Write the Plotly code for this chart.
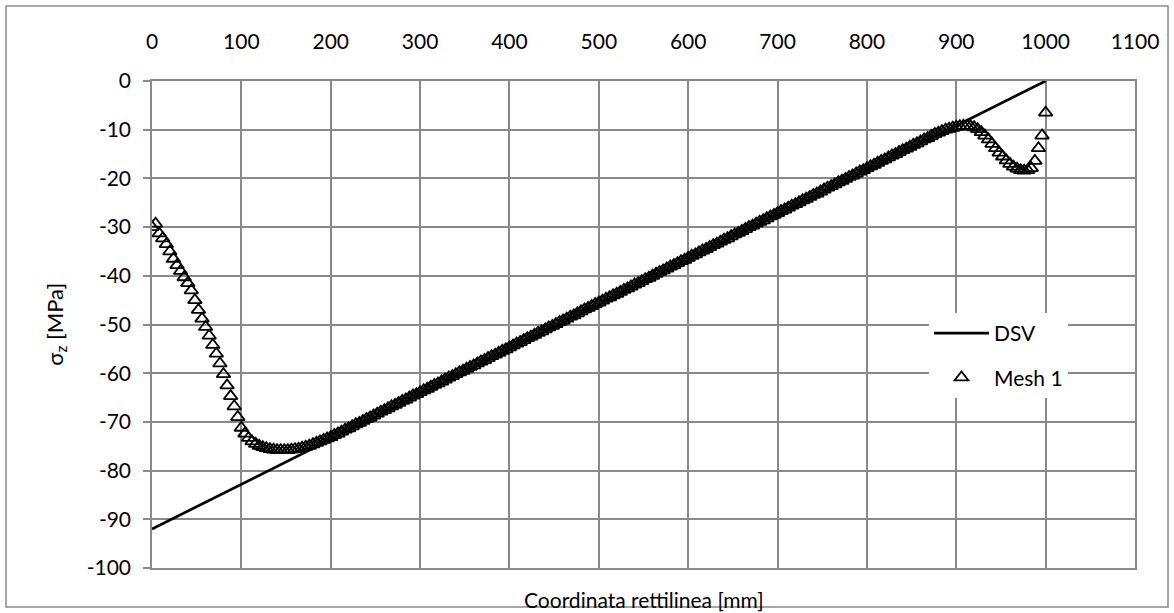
import plotly.graph_objects as go

# ---- data ----
dsv_x = [0, 1000]
dsv_y = [-92.0, 0.0]

mesh_x = [
    0, 4, 8, 12, 16, 20, 24, 28, 32, 36, 40, 44, 48, 52, 56, 60, 64, 68, 72, 76,
    80, 84, 88, 92, 96, 100, 104, 108, 112, 116, 120, 124, 128, 132, 136, 140, 144, 148, 152, 156,
    160, 164, 168, 172, 176, 180, 184, 188, 192, 196, 200, 204, 208, 212, 216, 220, 224, 228, 232, 236,
    240, 244, 248, 252, 256, 260, 264, 268, 272, 276, 280, 284, 288, 292, 296, 300, 304, 308, 312, 316,
    320, 324, 328, 332, 336, 340, 344, 348, 352, 356, 360, 364, 368, 372, 376, 380, 384, 388, 392, 396,
    400, 404, 408, 412, 416, 420, 424, 428, 432, 436, 440, 444, 448, 452, 456, 460, 464, 468, 472, 476,
    480, 484, 488, 492, 496, 500, 504, 508, 512, 516, 520, 524, 528, 532, 536, 540, 544, 548, 552, 556,
    560, 564, 568, 572, 576, 580, 584, 588, 592, 596, 600, 604, 608, 612, 616, 620, 624, 628, 632, 636,
    640, 644, 648, 652, 656, 660, 664, 668, 672, 676, 680, 684, 688, 692, 696, 700, 704, 708, 712, 716,
    720, 724, 728, 732, 736, 740, 744, 748, 752, 756, 760, 764, 768, 772, 776, 780, 784, 788, 792, 796,
    800, 804, 808, 812, 816, 820, 824, 828, 832, 836, 840, 844, 848, 852, 856, 860, 864, 868, 872, 876,
    880, 884, 888, 892, 896, 900, 904, 908, 912, 916, 920, 924, 928, 932, 936, 940, 944, 948, 952, 956,
    960, 964, 968, 972, 976, 980, 984, 988, 992, 996, 1000,
]
mesh_y = [
    -30.0, -29.3, -31.3, -32.3, -33.5, -35.0, -36.5, -37.8, -39.0, -40.3,
    -41.5, -43.0, -45.0, -47.0, -48.8, -50.5, -52.3, -54.2, -56.0, -58.0,
    -60.2, -62.5, -64.7, -66.8, -69.0, -71.2, -72.4, -73.3, -74.0, -74.5,
    -74.9, -75.2, -75.4, -75.6, -75.7, -75.8, -75.8, -75.8, -75.8, -75.7,
    -75.6, -75.5, -75.3, -75.1, -74.9, -74.6, -74.3, -74.0, -73.7, -73.4,
    -73.1, -72.7, -72.4, -72.0, -71.6, -71.3, -70.9, -70.5, -70.2, -69.8,
    -69.4, -69.1, -68.7, -68.3, -67.9, -67.6, -67.2, -66.8, -66.5, -66.1,
    -65.7, -65.4, -65.0, -64.6, -64.3, -63.9, -63.5, -63.2, -62.8, -62.4,
    -62.1, -61.7, -61.3, -60.9, -60.6, -60.2, -59.8, -59.5, -59.1, -58.7,
    -58.4, -58.0, -57.6, -57.3, -56.9, -56.5, -56.2, -55.8, -55.4, -55.1,
    -54.7, -54.3, -53.9, -53.6, -53.2, -52.8, -52.5, -52.1, -51.7, -51.4,
    -51.0, -50.6, -50.3, -49.9, -49.5, -49.2, -48.8, -48.4, -48.1, -47.7,
    -47.3, -46.9, -46.6, -46.2, -45.8, -45.5, -45.1, -44.7, -44.4, -44.0,
    -43.7, -43.3, -42.9, -42.6, -42.2, -41.8, -41.5, -41.1, -40.7, -40.4,
    -40.0, -39.6, -39.2, -38.9, -38.5, -38.1, -37.8, -37.4, -37.0, -36.7,
    -36.3, -35.9, -35.6, -35.2, -34.8, -34.5, -34.1, -33.7, -33.4, -33.0,
    -32.6, -32.3, -31.9, -31.5, -31.2, -30.8, -30.4, -30.0, -29.7, -29.3,
    -28.9, -28.6, -28.2, -27.8, -27.5, -27.1, -26.7, -26.4, -26.0, -25.6,
    -25.3, -24.9, -24.5, -24.2, -23.8, -23.4, -23.1, -22.7, -22.3, -21.9,
    -21.6, -21.2, -20.8, -20.5, -20.1, -19.7, -19.4, -19.0, -18.6, -18.3,
    -17.9, -17.5, -17.2, -16.8, -16.4, -16.1, -15.7, -15.3, -15.0, -14.6,
    -14.2, -13.9, -13.5, -13.1, -12.8, -12.4, -12.0, -11.7, -11.3, -10.9,
    -10.6, -10.3, -10.0, -9.8, -9.6, -9.4, -9.3, -9.2, -9.2, -9.3,
    -9.5, -9.9, -10.5, -11.2, -12.0, -12.9, -13.8, -14.7, -15.5, -16.3,
    -17.0, -17.6, -18.0, -18.3, -18.4, -18.3, -17.9, -16.4, -13.8, -11.2,
    -6.5,
]

x_ticks = [0, 100, 200, 300, 400, 500, 600, 700, 800, 900, 1000, 1100]
y_ticks = [0, -10, -20, -30, -40, -50, -60, -70, -80, -90, -100]

FONT = "Lato"
GRID = "#898989"

fig = go.Figure()
fig.add_trace(go.Scatter(
    x=dsv_x, y=dsv_y, mode="lines", name="DSV",
    line=dict(color="black", width=2.7), legendgroup="a",
))
fig.add_trace(go.Scatter(
    x=mesh_x, y=mesh_y, mode="markers", name="Mesh 1",
    marker=dict(symbol="triangle-up-open", size=12, color="black",
                line=dict(color="black", width=1.8)),
    legendgroup="b",
))

fig.update_layout(
    width=1174, height=613,
    margin=dict(l=152, r=39, t=81, b=45),
    paper_bgcolor="white", plot_bgcolor="white",
    font=dict(family=FONT, size=21, color="black"),
    showlegend=True,
    legend=dict(
        x=0.7904, y=0.5236, xanchor="left", yanchor="top",
        bgcolor="white", borderwidth=0,
        font=dict(family=FONT, size=21, color="black"),
        tracegroupgap=14, traceorder="grouped", itemwidth=55,
    ),
    xaxis=dict(
        side="top", range=[0, 1100], tickvals=x_ticks,
        ticktext=[str(v) for v in x_ticks],
        showgrid=True, gridcolor=GRID, gridwidth=1.5,
        showline=True, linecolor=GRID, linewidth=1.5, mirror=True,
        ticks="", ticklabelstandoff=22, zeroline=False,
    ),
    yaxis=dict(
        range=[-100, 0], tickvals=y_ticks,
        ticktext=[str(v) for v in y_ticks],
        showgrid=True, gridcolor=GRID, gridwidth=1.5,
        showline=True, linecolor=GRID, linewidth=1.5, mirror=True,
        ticks="outside", ticklen=7, tickcolor=GRID, tickwidth=1.5,
        ticklabelstandoff=8, zeroline=False,
    ),
    shapes=[dict(
        type="rect", xref="paper", yref="paper",
        x0=-0.1485, x1=1.0336, y0=-0.080, y1=1.154,
        line=dict(color=GRID, width=1.5), fillcolor="rgba(0,0,0,0)", layer="below",
    )],
    annotations=[
        dict(text="Coordinata rettilinea [mm]", xref="paper", yref="paper",
             x=0.5, y=-0.0657, xanchor="center", yanchor="middle",
             showarrow=False, font=dict(family=FONT, size=21)),
        dict(text="σ<sub>z</sub> [MPa]", xref="paper", yref="paper",
             x=-0.0985, y=0.5, xanchor="center", yanchor="middle", textangle=-90,
             showarrow=False, font=dict(family=FONT, size=22)),
    ],
)

fig.write_html("out.html", config={"displayModeBar": False},
               post_script="document.body.style.margin='0';")
